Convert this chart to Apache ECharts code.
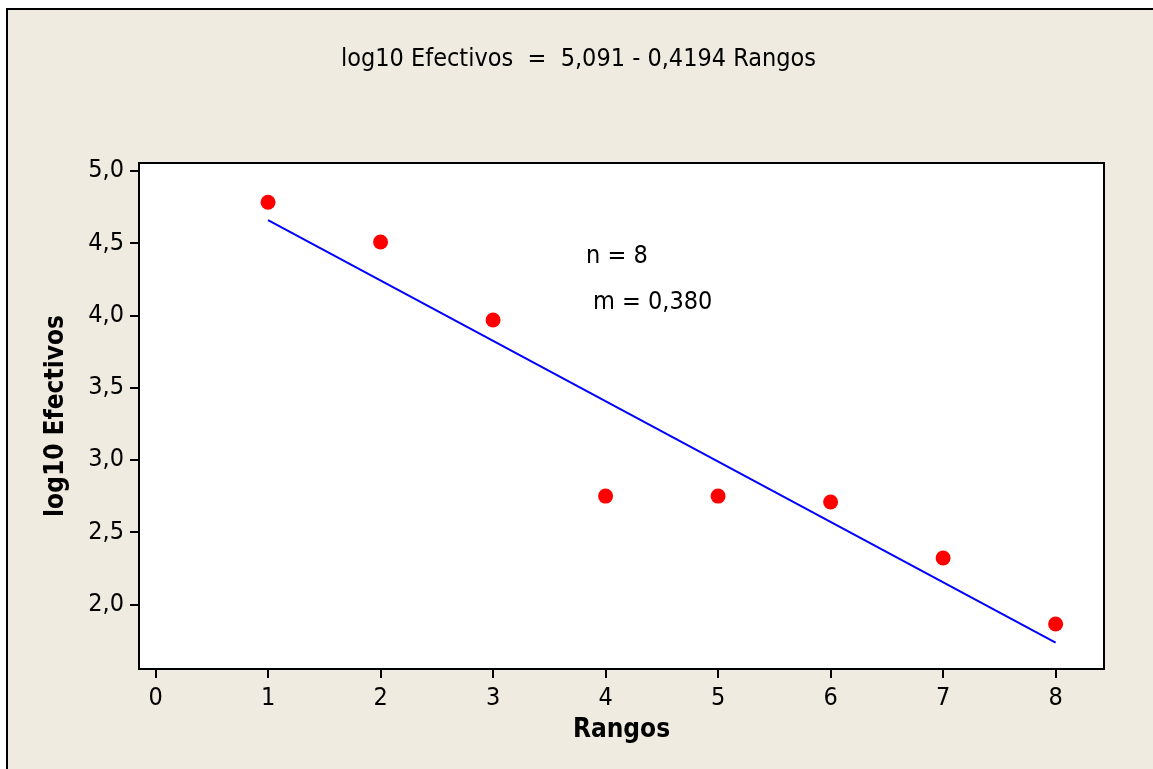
<!DOCTYPE html>
<html>
<head>
<meta charset="utf-8">
<script src="https://cdn.jsdelivr.net/npm/echarts@6/dist/echarts.min.js"></script>
<style>
  html, body { margin: 0; padding: 0; background: #ffffff; }
  #chart { width: 1153px; height: 769px; }
</style>
</head>
<body>
<div id="chart"></div>
<script>
// rangos (x) y log10 de efectivos (y)
var rangos = [1, 2, 3, 4, 5, 6, 7, 8];
var logEfectivos = [4.783, 4.508, 3.968, 2.749, 2.749, 2.708, 2.32, 1.864];
// recta ajustada: extremos x=1 y x=8
var ajusteX = [1, 8];
var ajusteY = [4.66, 1.734];
var xTicks = [0, 1, 2, 3, 4, 5, 6, 7, 8];
var yTicks = ["2,0", "2,5", "3,0", "3,5", "4,0", "4,5", "5,0"];

var font = "'DejaVu Sans Condensed', 'DejaVu Sans'";
var chart = echarts.init(document.getElementById("chart"));

var puntos = rangos.map(function (r, i) { return [r, logEfectivos[i]]; });
var recta = ajusteX.map(function (r, i) { return [r, ajusteY[i]]; });
var yTickVals = yTicks.map(function (t) { return parseFloat(t.replace(",", ".")); });

var options = {
  animation: false,
  textStyle: { fontFamily: font, color: "#000" },
  graphic: [
    {
      type: "rect",
      z: -10,
      shape: { x: 7, y: 9, width: 1200, height: 800 },
      style: { fill: "#EFEBE1", stroke: "#000", lineWidth: 2 },
    },
    {
      type: "text",
      left: 341,
      top: 47,
      style: {
        text: "log10 Efectivos  =  5,091 - 0,4194 Rangos",
        font: "25px " + font,
        fill: "#000",
      },
    },
    {
      type: "text",
      left: 586,
      top: 244,
      style: { text: "n = 8", font: "25px " + font, fill: "#000" },
    },
    {
      type: "text",
      left: 593,
      top: 290,
      style: { text: "m = 0,380", font: "25px " + font, fill: "#000" },
    },
  ],
  grid: {
    left: 139,
    top: 163,
    right: 49,
    bottom: 100,
    show: true,
    backgroundColor: "#fff",
    borderColor: "#000",
    borderWidth: 2,
  },
  xAxis: {
    type: "value",
    min: -0.147,
    max: 8.43,
    name: "Rangos",
    nameLocation: "middle",
    nameGap: 48,
    nameTextStyle: { fontFamily: font, fontSize: 26, fontWeight: "bold", color: "#000" },
    axisLine: { show: true, onZero: false, lineStyle: { color: "#000", width: 2 } },
    axisTick: { show: true, inside: false, length: 9, lineStyle: { color: "#000", width: 2 },
      customValues: xTicks },
    axisLabel: { fontSize: 25, color: "#000", margin: 17, customValues: xTicks },
    splitLine: { show: false },
  },
  yAxis: {
    type: "value",
    min: 1.552,
    max: 5.055,
    name: "log10 Efectivos",
    nameLocation: "middle",
    nameGap: 70,
    nameTextStyle: { fontFamily: font, fontSize: 26, fontWeight: "bold", color: "#000" },
    axisLine: { show: true, onZero: false, lineStyle: { color: "#000", width: 2 } },
    axisTick: { show: true, inside: false, length: 9, lineStyle: { color: "#000", width: 2 },
      customValues: yTickVals },
    axisLabel: {
      fontSize: 25,
      color: "#000",
      margin: 15,
      customValues: yTickVals,
      formatter: function (v) { return v.toFixed(1).replace(".", ","); },
    },
    splitLine: { show: false },
  },
  series: [
    {
      type: "line",
      data: recta,
      symbol: "none",
      lineStyle: { color: "#0000FF", width: 2 },
      z: 2,
    },
    {
      type: "scatter",
      data: puntos,
      symbol: "circle",
      symbolSize: 15,
      itemStyle: { color: "#FF0000", opacity: 1 },
      z: 3,
    },
  ],
};
chart.setOption(options, true);
</script>
</body>
</html>
